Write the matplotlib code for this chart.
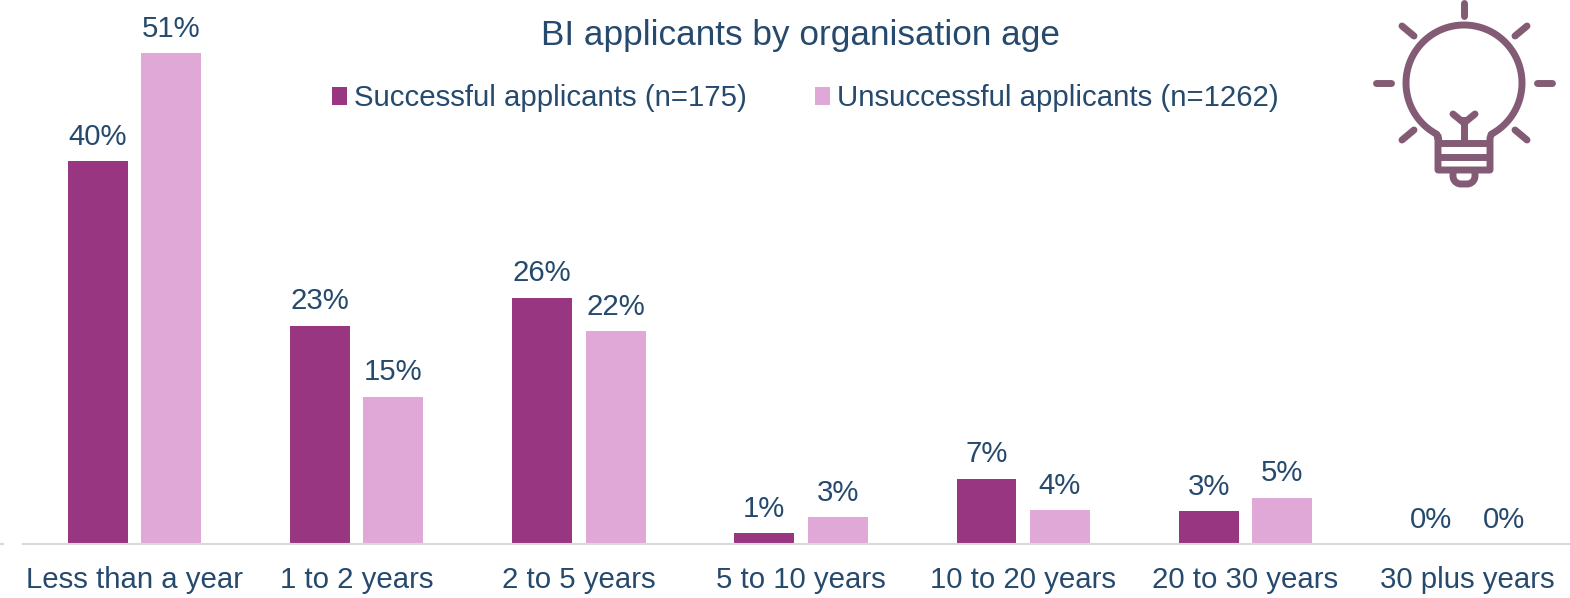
import numpy as np
import matplotlib
matplotlib.use('Agg')
import matplotlib.pyplot as plt

categories = ['Less than a year', '1 to 2 years', '2 to 5 years', '5 to 10 years',
              '10 to 20 years', '20 to 30 years', '30 plus years']
successful = [39.8, 22.7, 25.6, 1.15, 6.8, 3.4, 0]
unsuccessful = [51, 15.3, 22.1, 2.8, 3.5, 4.8, 0]
successful_labels = ['40%', '23%', '26%', '1%', '7%', '3%', '0%']
unsuccessful_labels = ['51%', '15%', '22%', '3%', '4%', '5%', '0%']

W, H = 1570, 598
text_col = '#264A6E'
dark = '#993681'
light = '#E0A8D6'
icon_col = '#835B74'
fs = 21.2

plt.rcParams['font.family'] = ['Liberation Sans', 'DejaVu Sans']

fig = plt.figure(figsize=(W / 100, H / 100), dpi=100)
# axes run past the right edge of the picture, like the original crop
ax = fig.add_axes([23.5 / W, (H - 544) / H, 1555 / W, 544 / H])
x = np.arange(len(categories))
bw = 0.27
off = 0.165
b1 = ax.bar(x - off, successful, bw, color=dark, label='Successful applicants (n=175)')
b2 = ax.bar(x + off, unsuccessful, bw, color=light, label='Unsuccessful applicants (n=1262)')

for xi, v, s in zip(x, successful, successful_labels):
    ax.annotate(s, (xi - off, v), xytext=(0, 7.5), textcoords='offset points', ha='center',
                va='bottom', fontsize=fs, color=text_col, annotation_clip=False)
for xi, v, s in zip(x, unsuccessful, unsuccessful_labels):
    ax.annotate(s, (xi + off, v), xytext=(0, 7.5), textcoords='offset points', ha='center',
                va='bottom', fontsize=fs, color=text_col, annotation_clip=False)

ax.set_xlim(-0.5, len(categories) - 0.5)
ax.set_ylim(0, 544 / 9.62)
ax.set_xticks(x)
ax.set_xticklabels(categories, fontsize=fs, color=text_col)
ax.tick_params(axis='x', length=0, pad=16)
ax.set_yticks([])
for side in ['top', 'left', 'right']:
    ax.spines[side].set_visible(False)
ax.spines['bottom'].set_color('#D9D9D9')
ax.spines['bottom'].set_linewidth(1.5)

fig.text(800 / W, 1 - 35 / H, 'BI applicants by organisation age', ha='center', va='center',
         fontsize=25.3, color=text_col)

leg = fig.legend(handles=[b1, b2], loc='center', bbox_to_anchor=(805.5 / W, 1 - 98.5 / H), ncol=2,
                 frameon=False, fontsize=fs, handlelength=0.52, handleheight=0.52,
                 handletextpad=0.24, columnspacing=2.3, borderpad=0, labelcolor=text_col)

# overlay in pixel coordinates for the bulb icon
ov = fig.add_axes([0, 0, 1, 1])
ov.set_xlim(0, W)
ov.set_ylim(H, 0)
ov.axis('off')
ov.patch.set_alpha(0)
ov.plot([0, 3], [544, 544], color='#D9D9D9', lw=1.5)

lw = 5
rays = [((1464, 3), (1464, 16)), ((1376, 83), (1391, 83)), ((1537, 83), (1552, 83)),
        ((1402, 26), (1414, 36)), ((1527, 26), (1515, 36)),
        ((1402, 140), (1414, 130)), ((1527, 140), (1515, 130))]
for p, q in rays:
    ov.plot([p[0], q[0]], [p[1], q[1]], color=icon_col, lw=lw, solid_capstyle='round')

cx, cy, r = 1464, 83, 58
t = np.radians(np.linspace(-62, 242, 200))
bx = cx + r * np.cos(t)
by = cy - r * np.sin(t)
# outline of glass and socket as one closed line
ov.plot(np.r_[1438, bx[::-1], 1490, 1490, 1438, 1438], np.r_[138, by[::-1], 138, 170, 170, 138],
        color=icon_col, lw=lw, solid_joinstyle='round')
ov.plot([1438, 1490], [143, 143], color=icon_col, lw=lw, solid_capstyle='butt')
ov.plot([1438, 1490], [157, 157], color=icon_col, lw=lw, solid_capstyle='butt')
a = np.radians(np.linspace(180, 270, 20))
ux = np.r_[1453, 1461 + 8 * np.cos(a), 1467 - 8 * np.cos(a[::-1]), 1475]
uy = np.r_[171, 176 - 8 * np.sin(a), 176 - 8 * np.sin(a[::-1]), 171]
ov.plot(ux, uy, color=icon_col, lw=lw)
ov.plot([1464, 1464], [143, 120], color=icon_col, lw=lw)
ov.plot([1453, 1464, 1475], [114, 123, 114], color=icon_col, lw=lw,
        solid_capstyle='round', solid_joinstyle='round')

fig.savefig('out.png', dpi=100)
